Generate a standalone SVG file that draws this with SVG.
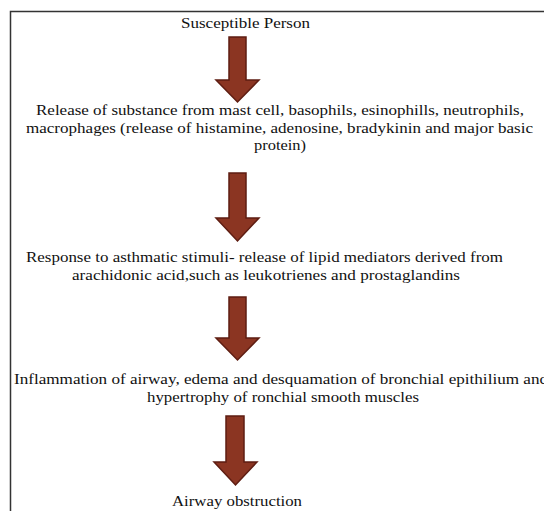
<svg xmlns="http://www.w3.org/2000/svg" width="544" height="511" viewBox="0 0 544 511">
<style>
text{font-family:'Liberation Serif','DejaVu Serif','Times New Roman',serif;font-size:15.5px;fill:#111}
.arr{fill:#8B3522;stroke:#5E1D12;stroke-width:1.5;stroke-linejoin:miter}
</style>
<rect width="544" height="511" fill="#fff"/>
<path d="M10.5,511 V11.5 H544" fill="none" stroke="#333" stroke-width="1.5"/>
<g id="n1"><text x="181" y="28" textLength="129" lengthAdjust="spacingAndGlyphs">Susceptible Person</text></g>
<g id="n2">
<text x="36" y="115" textLength="488" lengthAdjust="spacingAndGlyphs">Release of substance from mast cell, basophils, esinophills, neutrophils,</text>
<text x="26" y="132.5" textLength="507" lengthAdjust="spacingAndGlyphs">macrophages (release of histamine, adenosine, bradykinin and major basic</text>
<text x="254" y="150" textLength="52" lengthAdjust="spacingAndGlyphs">protein)</text>
</g>
<g id="n3">
<text x="26" y="262" textLength="477" lengthAdjust="spacingAndGlyphs">Response to asthmatic stimuli- release of lipid mediators derived from</text>
<text x="72" y="279.5" textLength="388" lengthAdjust="spacingAndGlyphs">arachidonic acid,such as leukotrienes and prostaglandins</text>
</g>
<g id="n4">
<text x="14" y="384" textLength="534" lengthAdjust="spacingAndGlyphs">Inflammation of airway, edema and desquamation of bronchial epithilium and</text>
<text x="147" y="401.5" textLength="272" lengthAdjust="spacingAndGlyphs">hypertrophy of ronchial smooth muscles</text>
</g>
<g id="n5"><text x="172" y="506" textLength="130" lengthAdjust="spacingAndGlyphs">Airway obstruction</text></g>
<g id="connectors">
<path class="arr" d="M229,37 H246 V80 H259 L237.5,102 L216,80 H229 Z"/>
<path class="arr" d="M229,173 H246 V218 H259 L237.5,241 L216,218 H229 Z"/>
<path class="arr" d="M229,297 H246 V338 H259 L237.5,360 L216,338 H229 Z"/>
<path class="arr" d="M226,416 H244 V462 H257 L235.5,485 L214,462 H226 Z"/>
</g>
</svg>
